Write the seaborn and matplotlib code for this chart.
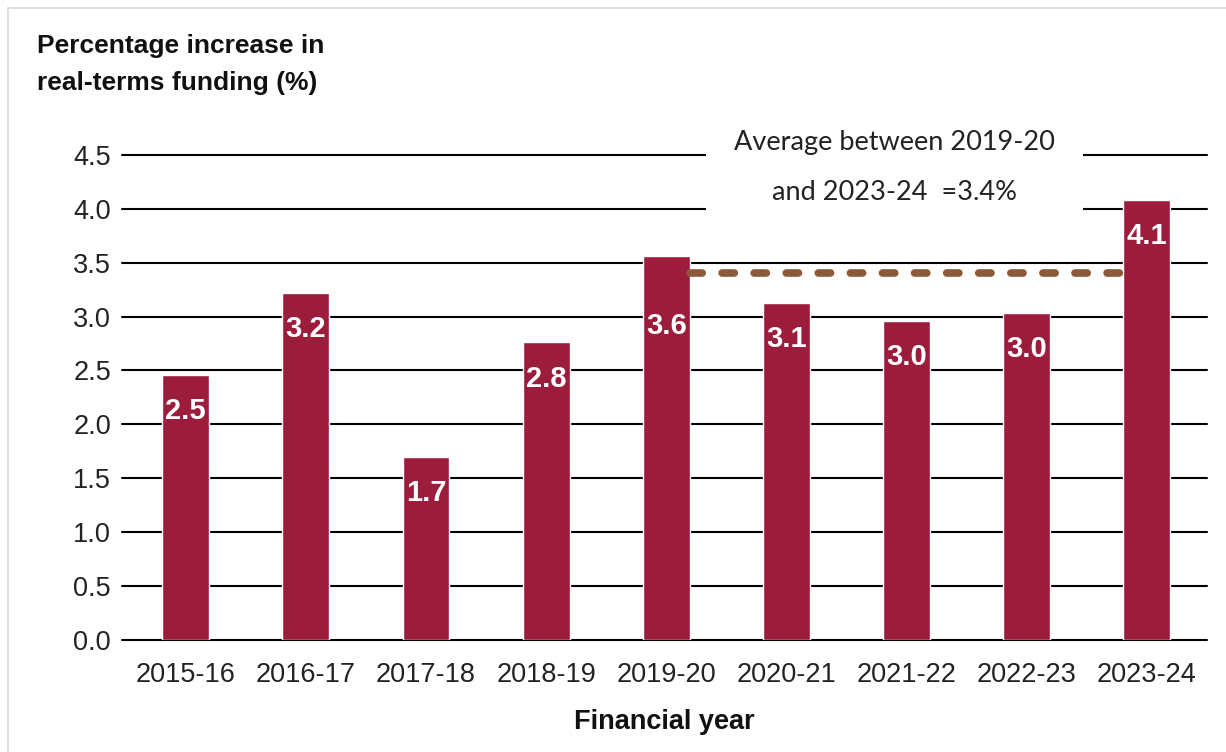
import matplotlib
matplotlib.use("Agg")
import matplotlib.pyplot as plt
from matplotlib import font_manager
from matplotlib.lines import Line2D
import seaborn as sns
import pandas as pd

# Real-terms funding growth by financial year
years = ["2015-16", "2016-17", "2017-18", "2018-19", "2019-20",
         "2020-21", "2021-22", "2022-23", "2023-24"]
increase = [2.46, 3.22, 1.70, 2.76, 3.56, 3.13, 2.96, 3.03, 4.08]
average_value = 3.4
average_from = "2019-20"
average_to = "2023-24"
y_ticks = [0.0, 0.5, 1.0, 1.5, 2.0, 2.5, 3.0, 3.5, 4.0, 4.5]

df = pd.DataFrame({"year": years, "increase": increase})

sns.set_theme(style="white")
installed = {f.name for f in font_manager.fontManager.ttflist}
narrow = "Liberation Sans Narrow" if "Liberation Sans Narrow" in installed else "Liberation Sans"
plt.rcParams["font.family"] = ["Liberation Sans", "DejaVu Sans"]

BAR = "#9c1c3c"
fig = plt.figure(figsize=(12.26, 7.52), dpi=100)
ax = fig.add_axes([0.0995, 0.149, 0.885, 0.645])

sns.barplot(data=df, x="year", y="increase", color=BAR, saturation=1,
            width=0.39, ax=ax, zorder=3)

ax.set_ylim(0, 4.5)
ax.set_xlim(-0.53, 8.5)
ax.set_yticks(y_ticks)
ax.set_yticklabels([f"{t:.1f}" for t in y_ticks])
for t in y_ticks:
    ax.axhline(t, color="black", lw=1.5, zorder=1, clip_on=False)
for s in ax.spines.values():
    s.set_visible(False)
ax.tick_params(axis="both", length=0, labelsize=19.5, colors="#222222")
ax.tick_params(axis="y", pad=8)
ax.tick_params(axis="x", pad=16)
ax.set_ylabel("")
ax.set_xlabel("Financial year", fontsize=19.5, fontweight="bold", family=narrow,
              labelpad=15, color="#111111")

# value labels inside the bars
i0 = years.index(average_from)
i1 = years.index(average_to)
for i, (bar, v) in enumerate(zip(ax.patches, increase)):
    off = -50 if i == i0 else -26
    ax.annotate(f"{v:.1f}", (bar.get_x() + bar.get_width() / 2, bar.get_height()),
                xytext=(0, off), textcoords="offset points", ha="center", va="center",
                color="white", fontsize=21, fontweight="bold", family=narrow, zorder=5)

# average line between the two bars
bw = ax.patches[0].get_width()
ax.plot([i0 + bw / 2 + 0.005, i1 - bw / 2], [average_value, average_value],
        color="#8c5a3a", lw=5.5, dashes=(1.6, 2.6), dash_capstyle="round", zorder=4)

ax.text(5.9, 4.385,
        f"Average between {average_from}\nand {average_to}  ={average_value:.1f}%",
        ha="center", va="center", fontsize=19.5, family=["Lato", "DejaVu Sans"],
        linespacing=2.25, color="#222222", zorder=6,
        bbox=dict(facecolor="white", edgecolor="none", pad=20))

fig.text(0.030, 0.955, "Percentage increase in\nreal-terms funding (%)",
         ha="left", va="top", fontsize=19, fontweight="bold", family=narrow,
         linespacing=1.7, color="#111111")

# light frame along the top and left edges
fig.add_artist(Line2D([0.0065, 1.0], [0.989, 0.989], transform=fig.transFigure,
                      color="#d9d9d9", lw=1.2))
fig.add_artist(Line2D([0.0065, 0.0065], [0.0, 0.989], transform=fig.transFigure,
                      color="#d9d9d9", lw=1.2))

fig.savefig("out.png", dpi=100)
